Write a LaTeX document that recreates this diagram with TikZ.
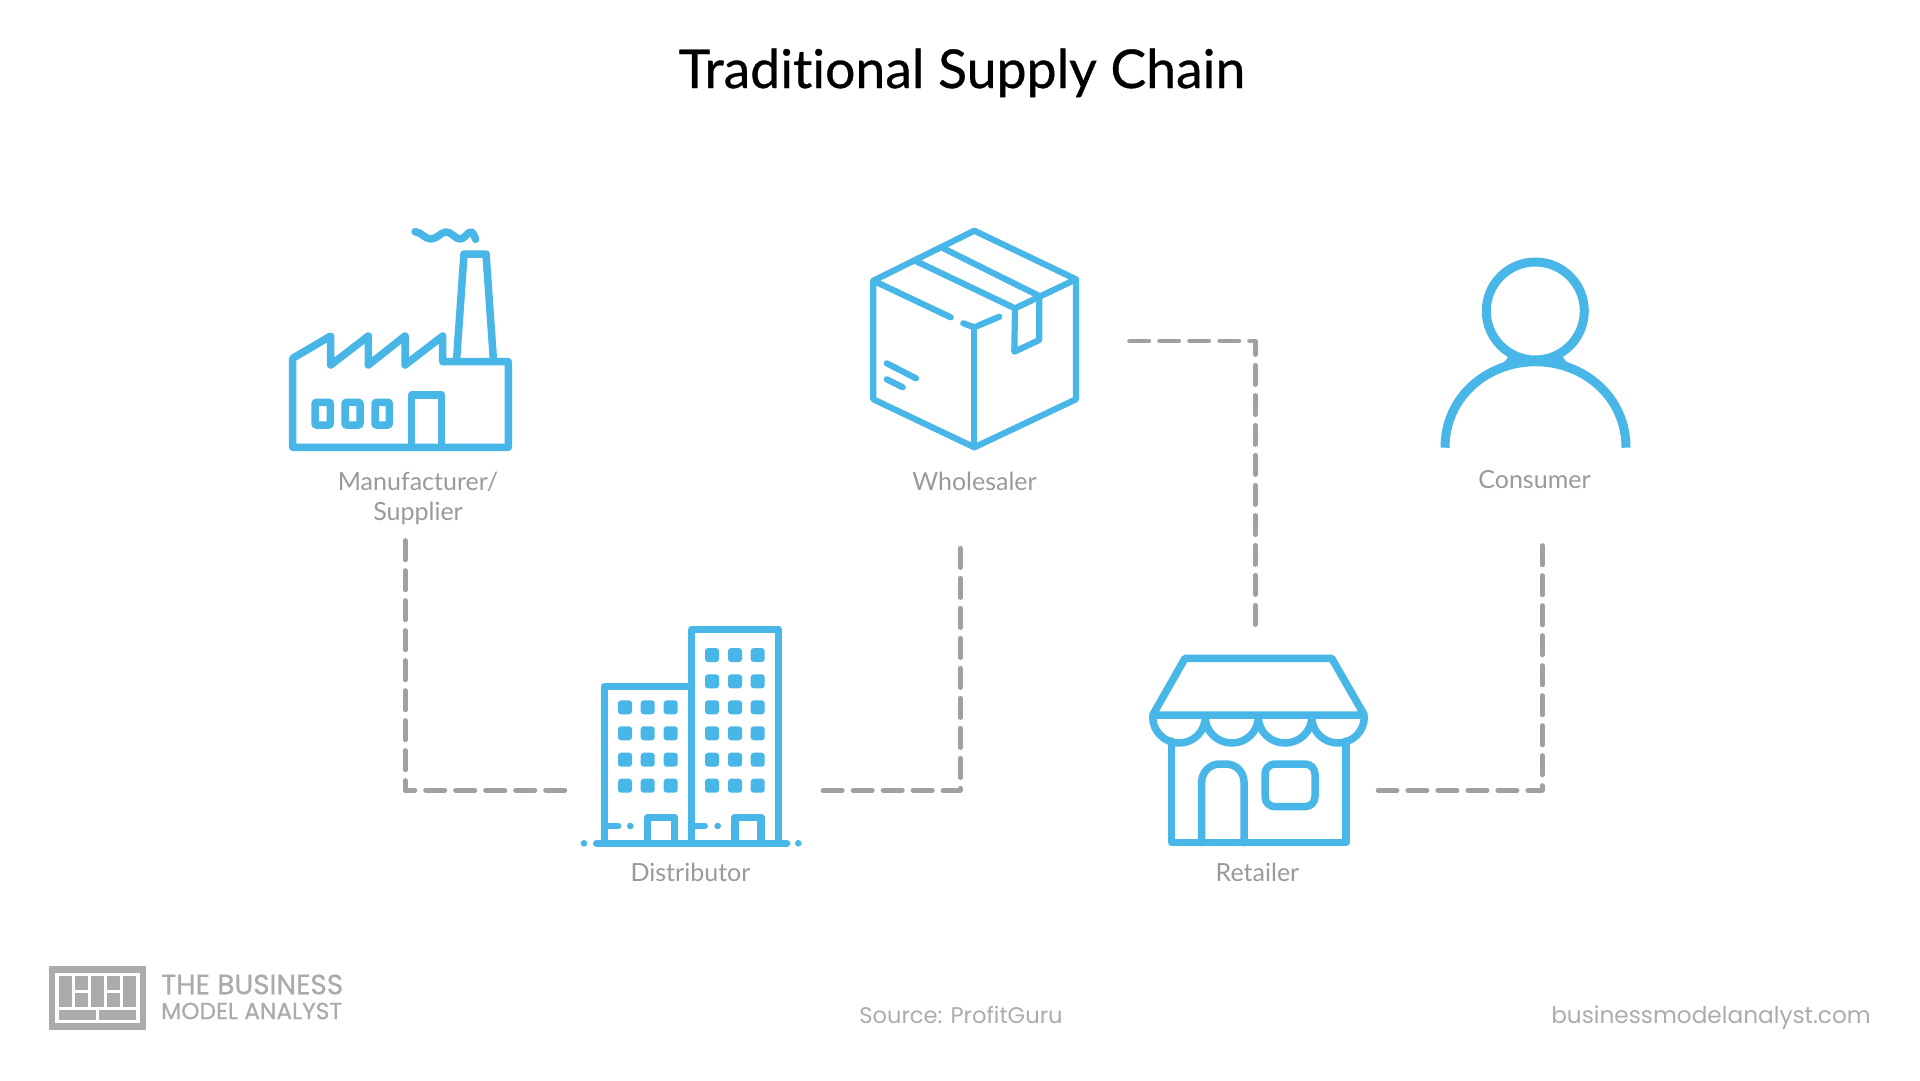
\documentclass[tikz,border=0pt]{standalone}
\usepackage{fontspec}
\setmainfont{Lato}
\newfontfamily\titlefont[FakeBold=0.6,Ligatures=NoCommon]{Lato}
\newfontfamily\footfont{Poppins}
\newfontfamily\logofont[FakeBold=0.7]{Poppins}
\usetikzlibrary{calc}
\definecolor{iconblue}{HTML}{48B6E6}
\definecolor{linkgrey}{HTML}{A0A0A0}
\definecolor{labelgrey}{HTML}{9A9A9A}
\definecolor{footgrey}{HTML}{ACACAC}
\definecolor{logogrey}{HTML}{ABABAB}
\tikzset{
 x=1pt,y=-1pt,
 icon/.style={draw=iconblue,line width=7.5pt,line join=round,line cap=round},
 iconthin/.style={draw=iconblue,line width=6.2pt,line join=round,line cap=round},
 link/.style={draw=linkgrey,line width=4.6pt,line cap=round,line join=round,dash pattern=on 19.4pt off 10.6pt},
 lab/.style={font=\fontsize{25}{30.6}\selectfont,text=labelgrey,inner sep=0pt,align=center},
 win/.style={fill=iconblue,rounded corners=3pt},
 foot/.style={font=\footfont\fontsize{22.6}{28}\selectfont,text=footgrey,inner sep=0pt},
}
\begin{document}
\begin{tikzpicture}
\useasboundingbox (0,0) rectangle (1920,1080);
\fill[white] (0,0) rectangle (1920,1080);
\node[font=\titlefont\fontsize{53.5}{60}\selectfont,text=black,inner sep=0pt,anchor=base] (title) at (962,88) {Traditional Supply Chain};

% factory
\draw[icon] (292.7,447.3) -- (292.7,358.3) -- (330.7,336) -- (330.7,365) -- (368.3,336) -- (368.3,365) -- (405,336) -- (405,365) -- (442.7,336) -- (442.7,361.7) -- (508.3,361.7) -- (508.3,447.3) -- cycle;
\draw[icon] (456.7,358) -- (464,254) -- (486,254) -- (493.3,358);
\draw[icon] (415,231.7) .. controls (421,232) and (425,239) .. (431,239) .. controls (437,239) and (441,232) .. (446,232) .. controls (452,232) and (455,239) .. (460,239) .. controls (465,239) and (467,232) .. (471,232) .. controls (473,232) and (474,236) .. (475.7,239.3);
\draw[icon,rounded corners=1pt] (315,402.3) rectangle (330.3,425);
\draw[icon,rounded corners=1pt] (345,402.3) rectangle (360,425);
\draw[icon,rounded corners=1pt] (375,402.3) rectangle (389.3,425);
\draw[icon] (411.7,447) -- (411.7,395) -- (441.7,395) -- (441.7,447);
\node[lab] (mfr) at (418,498.5) {Manufacturer/\\Supplier};

% box
\draw[iconthin] (950.7,317.3) -- (873.3,280.7) -- (974.3,230.7) -- (1076,279.3) -- (1015,308.3) -- (915,260.7);
\draw[iconthin] (943.3,248.3) -- (1039.3,296);
\draw[iconthin] (873.3,280.7) -- (873.3,399.3) -- (974.3,447.3) -- (1076,399.3) -- (1076,279.3);
\draw[iconthin] (963.3,323.3) -- (974.3,327.3) -- (999.3,316.7);
\draw[iconthin] (974.3,327.3) -- (974.3,447.3);
\draw[iconthin] (1015,308.3) -- (1014.3,351.7) -- (1039.3,340) -- (1039.3,296);
\draw[iconthin] (886.7,363.3) -- (916,378.3);
\draw[iconthin] (886.7,379.3) -- (902.7,387.3);
\node[lab] (wholesaler) at (974.5,481) {Wholesaler};

% person
\fill[iconblue] (1501,364) .. controls (1508,360) and (1510,356) .. (1506,350) -- (1565,350) .. controls (1561,356) and (1563,360) .. (1570,364) -- cycle;
\fill[white] (1535.3,311) circle (45);
\draw[draw=iconblue,line width=9pt] (1535.3,311) circle (49);
\draw[draw=iconblue,line width=9pt] (1445,447.7) .. controls (1445,397) and (1487,361.7) .. (1535.5,361.7) .. controls (1584,361.7) and (1626,397) .. (1626,447.7);
\node[lab] (consumer) at (1534.5,479.5) {Consumer};

% building
\draw[icon] (596.7,843.3) -- (786.7,843.3);
\fill[iconblue] (584,843.3) circle (3.3);
\fill[iconblue] (798.3,843.3) circle (3.3);
\draw[icon] (691.7,843) -- (691.7,629.3) -- (778.3,629.3) -- (778.3,843);
\draw[icon] (604.3,843) -- (604.3,686.7) -- (691.7,686.7);
\foreach \x in {712,735,757.7} \foreach \y in {655,681.3,707.3,733.3,759.7,785.7}
  \fill[win] (\x-7,\y-7) rectangle (\x+7,\y+7);
\foreach \x in {625,647.7,670.7} \foreach \y in {707.3,733.3,759.7,785.7}
  \fill[win] (\x-7,\y-7) rectangle (\x+7,\y+7);
\draw[icon] (647.7,843) -- (647.7,817.3) -- (674.3,817.3) -- (674.3,843);
\draw[icon] (735,843) -- (735,817.3) -- (761,817.3) -- (761,843);
\draw[draw=iconblue,line width=6pt,line cap=round] (606,826) -- (618.3,826);
\draw[draw=iconblue,line width=6pt,line cap=round] (693,826) -- (705,826);
\fill[iconblue] (630.3,826) circle (3.3);
\fill[iconblue] (717.7,826) circle (3.3);
\node[lab] (distributor) at (690.5,872) {Distributor};

% shop
\draw[icon] (1152.7,715) -- (1185,658.3) -- (1331.7,658.3) -- (1364.3,715) -- cycle;
\draw[icon] (1152.7,717) arc[start angle=180,end angle=0,x radius=26.3,y radius=26] arc[start angle=180,end angle=0,x radius=26.5,y radius=26] arc[start angle=180,end angle=0,x radius=26.7,y radius=26] arc[start angle=180,end angle=0,x radius=26.3,y radius=26];
\draw[icon] (1171.7,741) -- (1171.7,842.7) -- (1346,842.7) -- (1346,741);
\draw[icon] (1201.7,842.7) -- (1201.7,782) arc[start angle=180,end angle=270,radius=18] -- (1226,764) arc[start angle=270,end angle=360,radius=18] -- (1244,842.7);
\draw[icon,rounded corners=10pt] (1265,764) rectangle (1315,806.7);
\node[lab] (retailer) at (1257.5,872) {Retailer};

% connectors
\coordinate (c1a) at (405.3,540.5); \coordinate (c1b) at (405.3,790.3); \coordinate (c1c) at (565.5,790.3);
\coordinate (c2a) at (960.3,548.2); \coordinate (c2b) at (960.3,790.3); \coordinate (c2c) at (822,790.3);
\coordinate (c3a) at (1129.5,341); \coordinate (c3b) at (1255.3,341); \coordinate (c3c) at (1255.3,625);
\coordinate (c4a) at (1542.3,545.5); \coordinate (c4b) at (1542.3,790.3); \coordinate (c4c) at (1378,790.3);
\draw[link] (c1a) -- (c1b) -- (c1c);
\draw[link] (c2a) -- (c2b) -- (c2c);
\draw[link] (c3a) -- (c3b) -- (c3c);
\draw[link] (c4a) -- (c4b) -- (c4c);

% logo
\fill[logogrey] (49,966) rectangle (146,1030);
\fill[white] (55,973) rectangle (140,1023);
\fill[logogrey] (59,976) rectangle (72,1007);
\fill[logogrey] (75,976) rectangle (88,990);
\fill[logogrey] (75,993) rectangle (88,1007);
\fill[logogrey] (91,976) rectangle (104,1007);
\fill[logogrey] (107,976) rectangle (120,990);
\fill[logogrey] (107,993) rectangle (120,1007);
\fill[logogrey] (123,976) rectangle (136,1007);
\fill[logogrey] (59,1010) rectangle (96,1020);
\fill[logogrey] (99,1010) rectangle (136,1020);
\node[font=\logofont\fontsize{27.9}{30}\selectfont,text=logogrey,anchor=west,inner sep=0pt] (logoa) at (161,984.5) {THE BUSINESS};
\node[font=\logofont\fontsize{23.3}{26}\selectfont,text=logogrey,anchor=west,inner sep=0pt] (logob) at (161,1011) {MODEL ANALYST};
\node[foot,anchor=base] (source) at (961,1023) {Source: ProfitGuru};
\node[foot,font=\footfont\fontsize{23.2}{28}\selectfont,anchor=base east] (site) at (1871,1023) {businessmodelanalyst.com};
\end{tikzpicture}
\end{document}
